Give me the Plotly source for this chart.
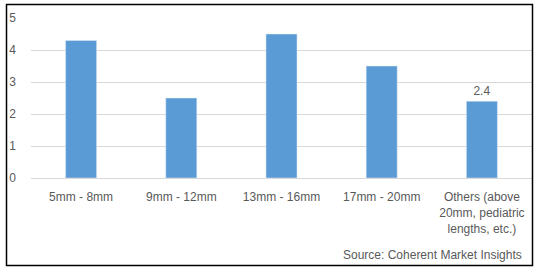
import plotly.graph_objects as go

categories = ["5mm - 8mm", "9mm - 12mm", "13mm - 16mm", "17mm - 20mm",
              "Others (above<br>20mm, pediatric<br>lengths, etc.)"]
values = [4.3, 2.5, 4.5, 3.5, 2.4]
labels = ["", "", "", "", "2.4"]
y_ticks = [0, 1, 2, 3, 4, 5]

W, H = 539, 272
L, R, T, B = 31, 7, 18, 94
pw, ph = W - L - R, H - T - B

def px(x):
    return (x - L) / pw

def py(y):
    return (H - B - y) / ph

font = dict(family="Liberation Sans, Arial, sans-serif", size=12, color="#595959")

fig = go.Figure(go.Bar(
    x=categories, y=values, marker_color="#5B9BD5",
    text=labels, textposition="outside", cliponaxis=False,
    textfont=font, hoverinfo="skip",
))

fig.update_layout(
    width=W, height=H, margin=dict(l=L, r=R, t=T, b=B),
    paper_bgcolor="white", plot_bgcolor="white",
    bargap=0.69, showlegend=False, font=font,
    xaxis=dict(showgrid=False, showline=True, linecolor="#D9D9D9", linewidth=1,
               ticks="", tickangle=0, ticklabelstandoff=8, tickfont=font),
    yaxis=dict(range=[0, 5], tickvals=y_ticks, showgrid=True, gridcolor="#D9D9D9",
               gridwidth=1, zeroline=False, ticks="", ticklabelstandoff=14,
               tickfont=font, showline=False),
    shapes=[dict(type="rect", xref="paper", yref="paper",
                 x0=px(6.5), x1=px(532.5), y0=py(265.5), y1=py(4.5),
                 line=dict(color="black", width=1.5), fillcolor="rgba(0,0,0,0)")],
    annotations=[dict(text="Source: Coherent Market Insights", xref="paper", yref="paper",
                      x=px(524), y=py(255), xanchor="right", yanchor="middle",
                      showarrow=False, font=font)],
)

fig.write_html("out.html")
